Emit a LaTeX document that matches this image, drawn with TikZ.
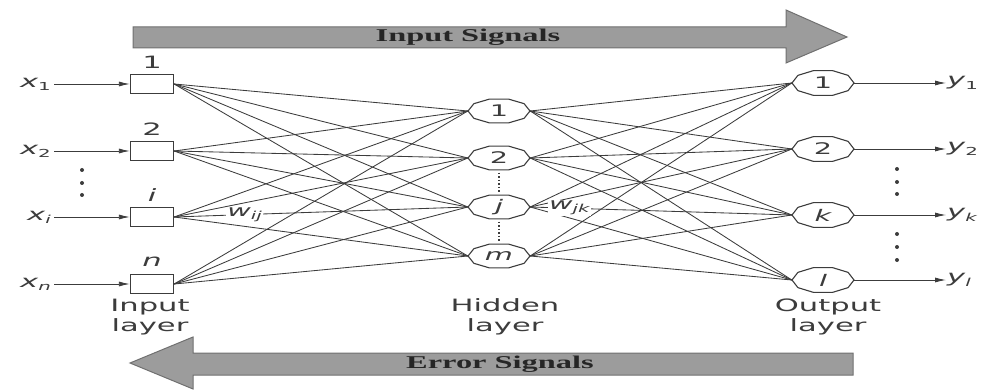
\documentclass[tikz,border=0pt]{standalone}
\usepackage{fontspec}
\setmainfont{DejaVu Sans}
\newfontfamily\lab[FakeStretch=1.8]{DejaVu Sans}
\newfontfamily\sig[FakeStretch=1.8]{Liberation Serif}
\usetikzlibrary{arrows.meta,shapes.geometric}
\newcommand\subt[1]{\raisebox{-0.35ex}{\fontsize{11}{11}\selectfont #1}}
\definecolor{ink}{HTML}{3C3C3C}
\definecolor{arrfill}{HTML}{9C9C9C}
\definecolor{arredge}{HTML}{707070}
\tikzset{
  inbox/.style={draw=ink, line width=1.3pt, minimum width=43pt, minimum height=19pt, inner sep=0pt},
  neuron/.style={ellipse, minimum width=62pt, minimum height=25pt, inner sep=0pt, text=ink, font=\lab\fontsize{16}{16}\selectfont},
  rim/.style={draw=ink, line width=1.1pt},
  wire/.style={draw=ink, line width=0.85pt},
  feed/.style={draw=ink, line width=0.85pt, -{Latex[length=11pt,width=5pt]}},
  lbl/.style={text=ink, font=\lab\fontsize{17}{20}\selectfont, align=center, inner sep=3pt},
  wlbl/.style={fill=white, text=ink, font=\lab\fontsize{16}{16}\selectfont\itshape, inner sep=1pt},
  bigarrow/.style={fill=arrfill, draw=arredge, line width=1pt},
  siglbl/.style={font=\sig\bfseries\fontsize{18}{18}\selectfont, text=black!85},
  dot/.style={fill=ink}
}
\begin{document}
\begin{tikzpicture}[x=1pt,y=-1pt]
\useasboundingbox (0,0) rectangle (985,390);
% big arrows
\draw[bigarrow] (133,27) -- (786,27) -- (786,10) -- (847,37) -- (786,63) -- (786,48) -- (133,48) -- cycle;
\node[siglbl] (insig) at (468,37) {Input Signals};
\draw[bigarrow] (853,353) -- (193,353) -- (193,337) -- (130,363) -- (193,389) -- (193,375) -- (853,375) -- cycle;
\node[siglbl] (errsig) at (500,364) {Error Signals};
% input layer
\foreach \n/\y/\t/\s in {1/84/1/1, 2/151/2/2, 3/217/\itshape i/\itshape i, 4/284/\itshape n/\itshape n}{
  \node[inbox] (in\n) at (152,\y) {};
  \node[lbl] (it\n) at (152,\y-22) {\t};
  \node[lbl, anchor=east] (x\n) at (54,\y) {{\itshape x}\subt{\s}};
  \draw[feed] (x\n.east) -- (in\n.west);
}
% hidden layer
\foreach \n/\y/\t in {1/111/1, 2/158/2, 3/207/\itshape j, 4/256/\itshape m}{
  \node[neuron] (h\n) at (499,\y) {\t};
  \draw[rim, shift={(h\n.center)}] (0:31pt and 12.5pt) \foreach \a in {36,72,...,324}{ -- (\a:31pt and 12.5pt)} -- cycle;
}
% output layer
\foreach \n/\y/\t/\s in {1/83/1/1, 2/149/2/2, 3/215/\itshape k/\itshape k, 4/280/\itshape l/\itshape l}{
  \node[neuron] (o\n) at (823,\y) {\t};
  \draw[rim, shift={(o\n.center)}] (0:31pt and 13pt) \foreach \a in {36,72,...,324}{ -- (\a:31pt and 13pt)} -- cycle;
  \node[lbl, anchor=west, inner sep=1pt] (y\n) at (946,\y) {{\itshape y}\subt{\s}};
  \draw[feed] (o\n.east) -- (y\n.west);
}
% connections
\foreach \i in {1,...,4}{
  \foreach \j in {1,...,4}{
    \draw[wire] (in\i.east) -- (h\j.west);
    \draw[wire] (h\i.east) -- (o\j.west);
  }
}
\path (in3.east) -- (h3.west) node[wlbl, pos=0.24] (wij) {w\subt{ij}};
\path (h3.east) -- (o3.west) node[wlbl, pos=0.15] (wjk) {w\subt{jk}};
% dots
\foreach \y in {170,183,195}{ \fill[dot] (82,\y) circle (2pt); }
\foreach \y in {169,182,194,234,247,260}{ \fill[dot] (897,\y) circle (2pt); }
\draw[ink, line width=1.6pt, dash pattern=on 1.5pt off 2pt] ([yshift=-2pt]h2.south) -- ([yshift=2pt]h3.north);
\draw[ink, line width=1.6pt, dash pattern=on 1.5pt off 2pt] ([yshift=-2pt]h3.south) -- ([yshift=2pt]h4.north);
% layer labels
\node[lbl] (inl) at (150,317) {Input\\layer};
\node[lbl] (hdl) at (505,317) {Hidden\\layer};
\node[lbl] (oul) at (828,317) {Output\\layer};
\end{tikzpicture}
\end{document}
